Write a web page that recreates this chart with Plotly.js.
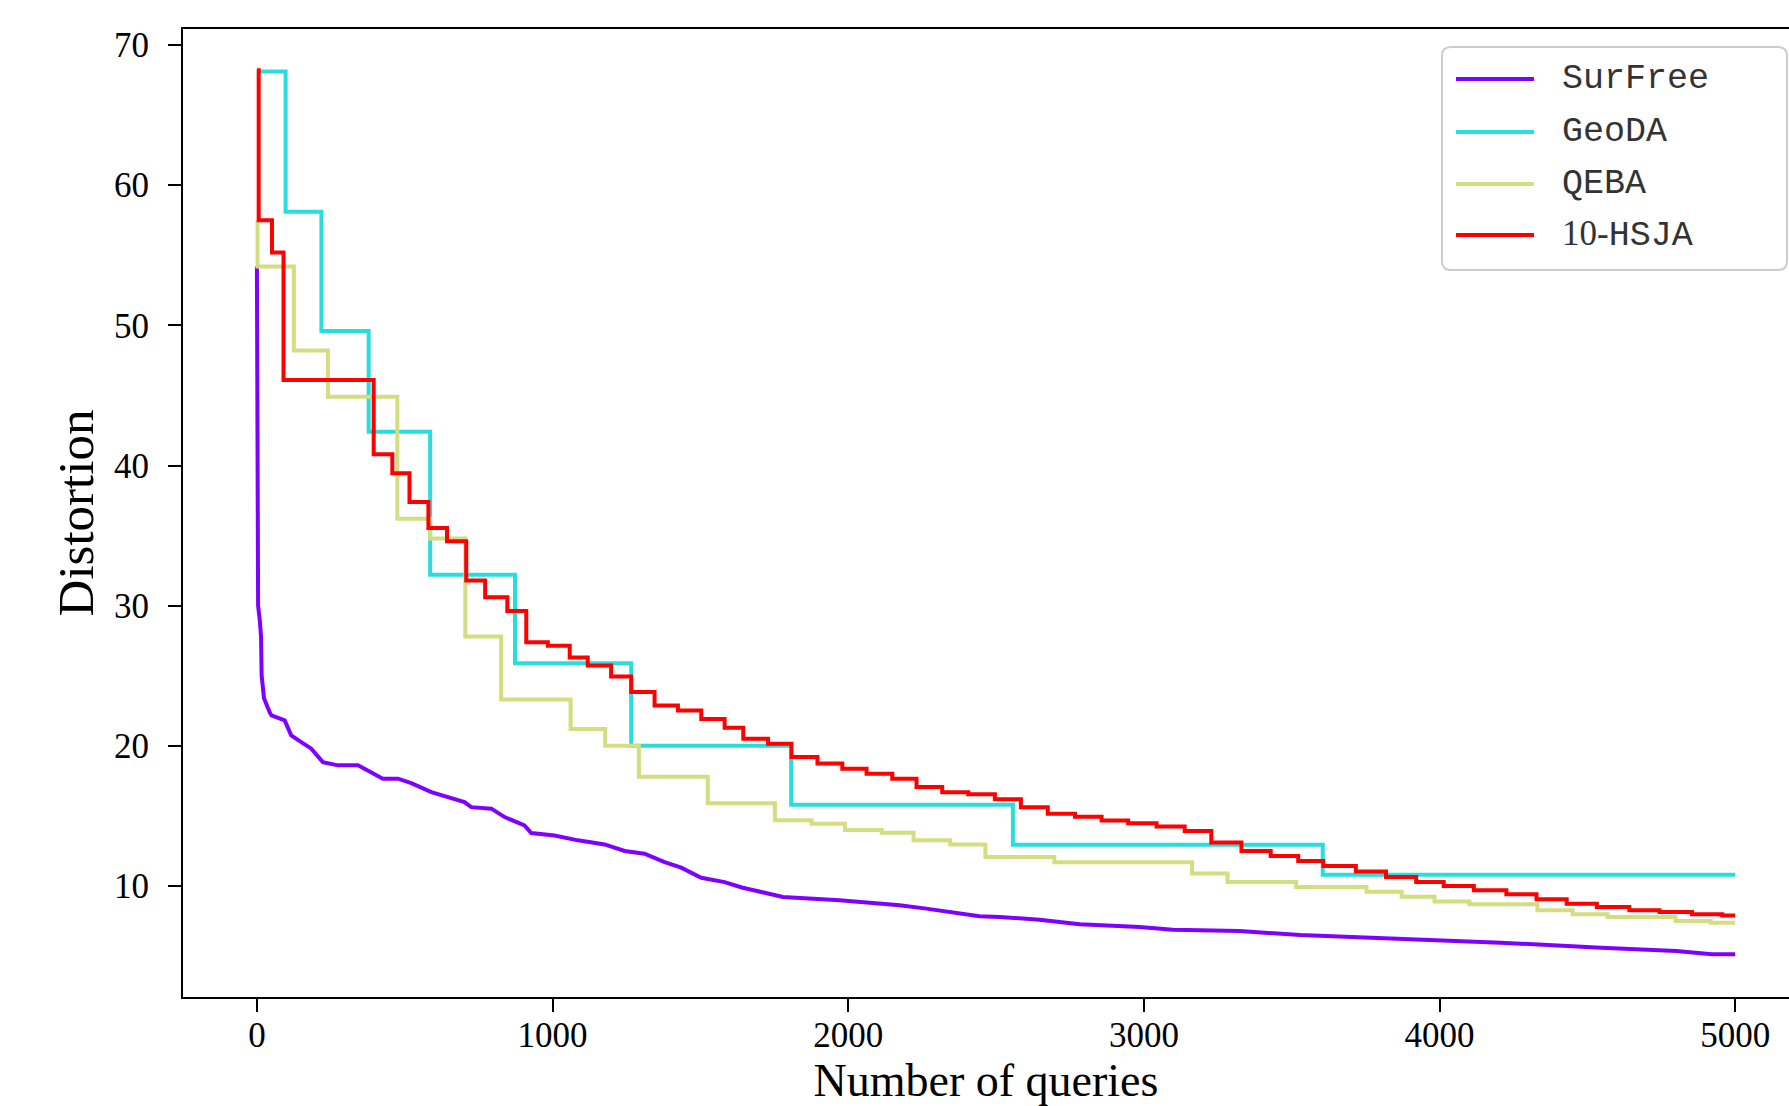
<!DOCTYPE html>
<html><head><meta charset="utf-8">
<script src="https://cdn.plot.ly/plotly-3.0.1.min.js"></script>
<style>html,body{margin:0;padding:0;background:#fff;overflow:hidden}#chart{width:1789px;height:1106px}</style>
</head><body><div id="chart"></div>
<script>
// ---- data ----
const seriesNames = ['SurFree', 'GeoDA', 'QEBA', '10-HSJA'];
const seriesColors = ['#8000ff', '#2adddd', '#d4dd80', '#ff0000'];

const surfreeX = [0, 2, 3, 4, 10, 14, 16, 20, 24, 43, 49, 94, 116, 150, 184, 223, 274, 342, 387, 426, 477, 522, 590, 646, 702, 725, 793, 838, 905, 928, 1007, 1086, 1176, 1244, 1311, 1379, 1435, 1503, 1582, 1640, 1779, 1971, 2174, 2264, 2444, 2513, 2647, 2783, 2986, 3098, 3324, 3529, 3868, 4207, 4547, 4801, 4921, 5000];
const surfreeY = [54.2, 42, 35, 30, 28.9, 27.8, 25, 23.95, 23.4, 22.4, 22.17, 21.82, 20.75, 20.27, 19.8, 18.84, 18.61, 18.61, 18.13, 17.66, 17.66, 17.34, 16.7, 16.35, 15.99, 15.63, 15.52, 14.92, 14.33, 13.78, 13.61, 13.26, 12.97, 12.5, 12.31, 11.71, 11.31, 10.59, 10.28, 9.9, 9.22, 8.98, 8.63, 8.39, 7.85, 7.79, 7.6, 7.27, 7.08, 6.89, 6.79, 6.51, 6.27, 5.96, 5.6, 5.37, 5.13, 5.13];

const geodaX = [0, 97, 218, 378, 586, 873, 1266, 1807, 2557, 3605, 5000];
const geodaY = [68.1, 58.1, 49.6, 42.4, 32.2, 25.9, 20.0, 15.8, 12.95, 10.8, 10.8];

const qebaX = [0, 2, 125, 240, 475, 586, 705, 826, 1061, 1178, 1292, 1525, 1752, 1876, 1989, 2113, 2221, 2345, 2464, 2697, 3163, 3283, 3515, 3753, 3872, 3983, 4101, 4331, 4450, 4568, 4798, 4917, 5000];
const qebaY = [57.5, 54.2, 48.2, 44.9, 36.2, 34.8, 27.8, 23.3, 21.2, 20.0, 17.8, 15.9, 14.7, 14.45, 14.0, 13.8, 13.26, 12.97, 12.07, 11.7, 10.9, 10.28, 9.93, 9.6, 9.24, 8.89, 8.7, 8.27, 7.99, 7.79, 7.51, 7.39, 7.39];

const hsjaX = [0, 6, 51, 90, 395, 458, 516, 580, 643, 708, 772, 847, 911, 984, 1058, 1119, 1198, 1266, 1345, 1424, 1503, 1582, 1645, 1729, 1808, 1896, 1980, 2062, 2149, 2231, 2318, 2406, 2496, 2584, 2675, 2767, 2857, 2947, 3043, 3138, 3228, 3330, 3429, 3522, 3607, 3717, 3819, 3921, 4014, 4116, 4226, 4328, 4430, 4532, 4642, 4744, 4854, 4956, 5000];
const hsjaY = [68.2, 57.5, 55.2, 46.1, 40.8, 39.45, 37.4, 35.55, 34.6, 31.8, 30.6, 29.63, 27.4, 27.15, 26.3, 25.74, 24.95, 23.85, 22.88, 22.52, 21.92, 21.3, 20.5, 20.15, 19.2, 18.75, 18.37, 18.01, 17.66, 17.06, 16.7, 16.54, 16.2, 15.63, 15.15, 14.95, 14.67, 14.48, 14.25, 13.92, 13.1, 12.5, 12.14, 11.79, 11.43, 11.03, 10.65, 10.29, 10.0, 9.7, 9.41, 9.06, 8.74, 8.51, 8.27, 8.15, 7.99, 7.9, 7.9];

const xTickVals = [0, 1000, 2000, 3000, 4000, 5000];
const yTickVals = [10, 20, 30, 40, 50, 60, 70];
const xTitle = 'Number of queries';
const yTitle = 'Distortion';

// ---- figure ----
const W = 1789, H = 1106;
const M = {l: 183, r: 0, t: 29, b: 109};
const serif = "'Liberation Serif', 'Times New Roman', Times, serif";
const mono = "'Courier New', 'Liberation Mono', monospace";

const seriesX = [surfreeX, geodaX, qebaX, hsjaX];
const seriesY = [surfreeY, geodaY, qebaY, hsjaY];
const shapesKind = ['linear', 'hv', 'hv', 'hv'];

const traces = seriesNames.map((n, i) => ({
  type: 'scatter', mode: 'lines', name: n,
  x: seriesX[i], y: seriesY[i],
  line: {color: seriesColors[i], width: 4, shape: shapesKind[i]},
  showlegend: false, hoverinfo: 'skip'
}));

// pixel -> paper helpers for the hand-made legend
const pw = W - M.l - M.r, ph = H - M.t - M.b;
const px = X => (X - M.l) / pw;
const py = Y => (H - M.b - Y) / ph;

const box = {x0: 1442, x1: 1787, y0: 47, y1: 270, r: 9};
function roundRect(b) {
  const rx = b.r / pw, ry = b.r / ph;
  const L = px(b.x0), R = px(b.x1), T = py(b.y0), B = py(b.y1);
  return `M${L+rx},${T} L${R-rx},${T} Q${R},${T} ${R},${T-ry} L${R},${B+ry} Q${R},${B} ${R-rx},${B} L${L+rx},${B} Q${L},${B} ${L},${B+ry} L${L},${T-ry} Q${L},${T} ${L+rx},${T} Z`;
}

const shapes = [{
  type: 'path', xref: 'paper', yref: 'paper', path: roundRect(box),
  line: {color: '#cccccc', width: 2}, fillcolor: 'rgba(255,255,255,0.85)', layer: 'above'
}];
const annotations = [];
const rowY = [79, 132, 184, 235];
seriesNames.forEach((n, i) => {
  shapes.push({type: 'line', xref: 'paper', yref: 'paper',
    x0: px(1456), x1: px(1534), y0: py(rowY[i]), y1: py(rowY[i]),
    line: {color: seriesColors[i], width: 4}, layer: 'above'});
  const m = n.match(/^(\d+-)(.*)$/);
  const txt = m ? `<span style="font-family:${serif.replace(/'/g, '')};font-size:35px">${m[1]}</span>${m[2]}` : n;
  annotations.push({xref: 'paper', yref: 'paper', x: px(1560), y: py(rowY[i]),
    xanchor: 'left', yanchor: 'middle', showarrow: false, text: txt,
    font: {family: mono, size: 35, color: '#333333'}});
});

const axisCommon = {
  showline: true, linecolor: '#000000', linewidth: 2,
  ticks: 'outside', ticklen: 13, tickwidth: 2, tickcolor: '#000000',
  showgrid: false, zeroline: false,
  tickfont: {family: serif, size: 35, color: '#000000'}
};

const layout = {
  width: W, height: H,
  margin: {l: M.l, r: M.r, t: M.t, b: M.b, pad: 0},
  paper_bgcolor: '#ffffff', plot_bgcolor: '#ffffff',
  showlegend: false,
  xaxis: Object.assign({}, axisCommon, {
    range: [-250, 5182], tickmode: 'array', tickvals: xTickVals,
    ticktext: xTickVals.map(String), mirror: true,
    ticklabelstandoff: -7,
    title: {text: xTitle, font: {family: serif, size: 46, color: '#000000'}, standoff: 22}
  }),
  yaxis: Object.assign({}, axisCommon, {
    range: [2.085, 71.14], tickmode: 'array', tickvals: yTickVals,
    ticktext: yTickVals.map(String), mirror: false,
    ticklabelstandoff: 12,
    title: {text: yTitle, font: {family: serif, size: 51, color: '#000000'}, standoff: 4}
  }),
  shapes: shapes,
  annotations: annotations
};

Plotly.newPlot('chart', traces, layout, {displayModeBar: false, staticPlot: true});
</script>
</body></html>
